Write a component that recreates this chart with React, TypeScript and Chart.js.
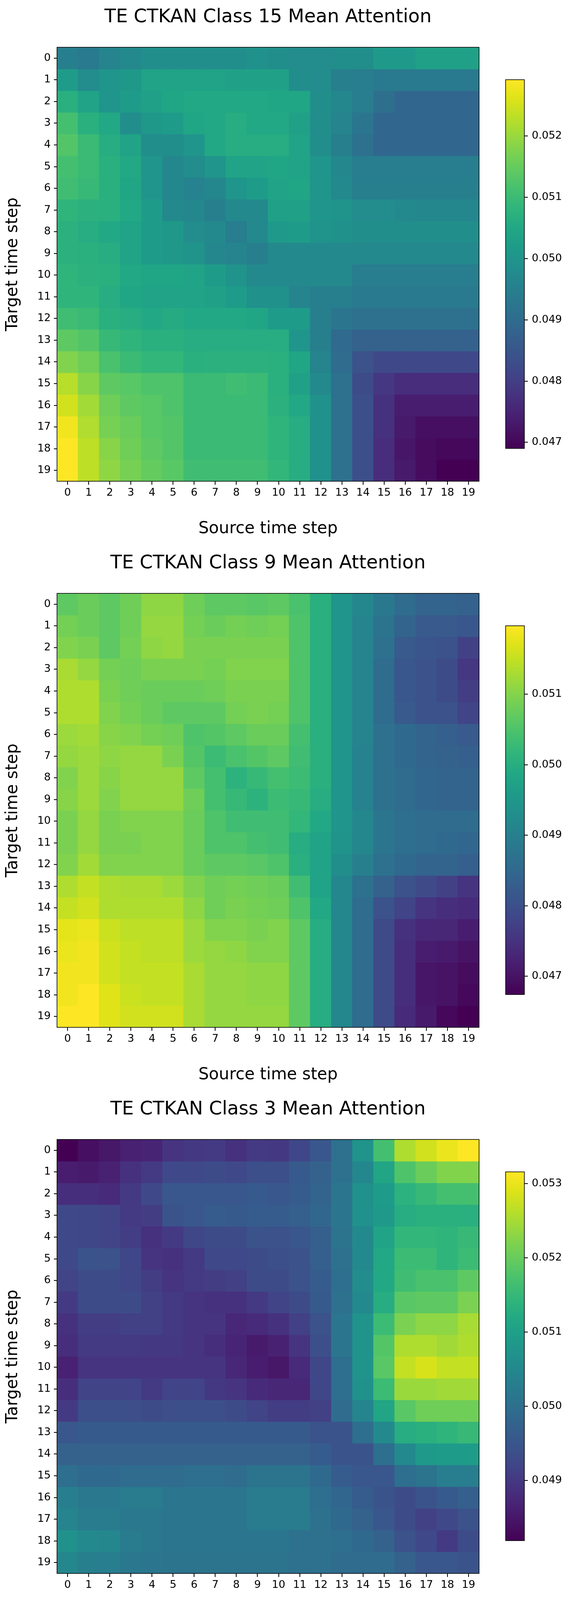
import React, { useEffect, useRef } from "react";
import { Chart, registerables } from "chart.js";

Chart.register(...registerables);

const FONT = "'DejaVu Sans', sans-serif";

const STEPS = ["0", "1", "2", "3", "4", "5", "6", "7", "8", "9", "10", "11", "12", "13", "14", "15", "16", "17", "18", "19"];
const X_LABEL = "Source time step";
const Y_LABEL = "Target time step";

// ---------- Class 15 ----------
const CLASS15_TITLE = "TE CTKAN Class 15 Mean Attention";
const CLASS15_RANGE = [0.0469, 0.05292];
const CLASS15_CB_TICKS = [0.047, 0.048, 0.049, 0.05, 0.051, 0.052];
const CLASS15_ATTENTION: number[][] = [
  [0.04949, 0.04937, 0.04961, 0.04973, 0.04985, 0.04985, 0.04985, 0.04985, 0.04985, 0.04991, 0.04985, 0.04979, 0.04979, 0.04985, 0.04985, 0.05015, 0.05015, 0.05033, 0.05033, 0.05033],
  [0.05021, 0.04979, 0.05003, 0.05009, 0.05039, 0.05039, 0.05039, 0.05039, 0.05033, 0.05033, 0.05033, 0.04985, 0.04979, 0.04949, 0.04943, 0.04937, 0.04937, 0.04937, 0.04937, 0.04937],
  [0.05069, 0.05039, 0.05003, 0.05021, 0.05033, 0.05045, 0.05051, 0.05051, 0.05051, 0.05051, 0.05045, 0.05045, 0.04985, 0.04967, 0.04943, 0.04907, 0.04889, 0.04889, 0.04889, 0.04889],
  [0.05111, 0.05069, 0.05051, 0.04985, 0.05009, 0.05021, 0.05045, 0.05051, 0.05063, 0.05051, 0.05051, 0.05033, 0.04985, 0.04961, 0.04925, 0.04889, 0.04889, 0.04889, 0.04889, 0.04889],
  [0.05129, 0.05099, 0.05063, 0.05039, 0.04985, 0.04985, 0.05003, 0.05051, 0.05063, 0.05063, 0.05063, 0.05039, 0.04985, 0.04949, 0.04913, 0.04889, 0.04889, 0.04889, 0.04889, 0.04889],
  [0.05111, 0.05099, 0.05069, 0.05051, 0.05003, 0.04967, 0.04979, 0.05003, 0.05039, 0.05039, 0.05045, 0.05039, 0.05003, 0.04967, 0.04943, 0.04943, 0.04943, 0.04943, 0.04943, 0.04943],
  [0.05105, 0.05093, 0.05069, 0.05045, 0.05003, 0.04967, 0.04955, 0.04967, 0.05003, 0.05021, 0.05039, 0.05045, 0.05003, 0.04973, 0.04949, 0.04949, 0.04949, 0.04949, 0.04949, 0.04949],
  [0.05081, 0.05075, 0.05069, 0.05051, 0.05021, 0.04973, 0.04967, 0.04949, 0.04973, 0.04973, 0.05033, 0.05033, 0.05003, 0.04997, 0.04979, 0.04979, 0.04973, 0.04967, 0.04967, 0.04967],
  [0.05075, 0.05063, 0.05051, 0.05039, 0.05021, 0.05009, 0.04979, 0.04973, 0.04943, 0.04973, 0.05015, 0.05021, 0.04997, 0.04991, 0.04985, 0.04985, 0.04985, 0.04985, 0.04985, 0.04985],
  [0.05075, 0.05069, 0.05063, 0.05039, 0.05021, 0.05009, 0.04997, 0.04967, 0.04961, 0.04949, 0.04973, 0.04973, 0.04973, 0.04973, 0.04973, 0.04973, 0.04973, 0.04973, 0.04973, 0.04973],
  [0.05081, 0.05075, 0.05069, 0.05051, 0.05045, 0.05045, 0.05039, 0.05021, 0.04997, 0.04973, 0.04973, 0.04973, 0.04973, 0.04973, 0.04943, 0.04943, 0.04943, 0.04943, 0.04943, 0.04943],
  [0.05081, 0.05081, 0.05063, 0.05045, 0.05039, 0.05039, 0.05039, 0.05033, 0.05021, 0.04991, 0.04991, 0.04961, 0.04949, 0.04949, 0.04937, 0.04937, 0.04937, 0.04937, 0.04937, 0.04937],
  [0.05105, 0.05099, 0.05069, 0.05063, 0.05051, 0.05057, 0.05051, 0.05051, 0.05051, 0.05045, 0.05021, 0.05021, 0.04949, 0.04925, 0.04913, 0.04913, 0.04913, 0.04913, 0.04913, 0.04913],
  [0.05142, 0.05129, 0.05093, 0.05081, 0.05069, 0.05069, 0.05063, 0.05063, 0.05063, 0.05063, 0.05063, 0.05003, 0.04949, 0.04895, 0.04877, 0.04877, 0.04877, 0.04877, 0.04877, 0.04877],
  [0.05178, 0.0516, 0.05117, 0.05099, 0.05087, 0.05087, 0.05069, 0.05075, 0.05075, 0.05075, 0.05069, 0.05045, 0.04961, 0.04901, 0.04841, 0.04822, 0.04822, 0.04822, 0.04822, 0.04822],
  [0.05226, 0.05184, 0.05142, 0.05135, 0.05123, 0.05123, 0.05099, 0.05099, 0.05105, 0.05099, 0.05069, 0.05033, 0.04973, 0.04913, 0.04828, 0.04786, 0.04768, 0.04768, 0.04768, 0.04768],
  [0.0525, 0.05208, 0.0516, 0.05142, 0.05135, 0.05123, 0.05099, 0.05099, 0.05099, 0.05099, 0.05075, 0.05051, 0.04991, 0.04913, 0.04834, 0.04774, 0.04738, 0.04738, 0.04738, 0.04738],
  [0.0528, 0.0522, 0.05166, 0.05154, 0.05135, 0.05129, 0.05099, 0.05099, 0.05099, 0.05099, 0.05081, 0.05063, 0.04991, 0.04913, 0.04834, 0.04774, 0.04732, 0.04714, 0.04714, 0.04714],
  [0.05292, 0.05232, 0.05184, 0.0516, 0.05142, 0.05129, 0.05099, 0.05099, 0.05099, 0.05099, 0.05081, 0.05063, 0.04991, 0.04913, 0.04834, 0.04768, 0.04726, 0.04708, 0.04702, 0.04702],
  [0.05292, 0.05232, 0.0519, 0.05166, 0.05148, 0.05135, 0.05105, 0.05105, 0.05105, 0.05105, 0.05087, 0.05063, 0.04991, 0.04913, 0.04834, 0.04768, 0.04732, 0.04708, 0.0469, 0.0469],
];

// ---------- Class 9 ----------
const CLASS9_TITLE = "TE CTKAN Class 9 Mean Attention";
const CLASS9_RANGE = [0.04674, 0.05197];
const CLASS9_CB_TICKS = [0.047, 0.048, 0.049, 0.05, 0.051];
const CLASS9_ATTENTION: number[][] = [
  [0.05066, 0.05077, 0.05066, 0.05082, 0.05108, 0.05108, 0.05082, 0.05066, 0.05066, 0.05061, 0.05066, 0.05045, 0.05003, 0.04946, 0.04915, 0.04883, 0.04857, 0.04841, 0.04841, 0.04836],
  [0.05087, 0.05077, 0.05066, 0.05082, 0.05113, 0.05113, 0.05087, 0.05077, 0.05087, 0.05082, 0.05087, 0.05051, 0.05003, 0.04946, 0.04909, 0.04873, 0.04841, 0.0482, 0.0482, 0.04815],
  [0.05098, 0.05092, 0.05066, 0.05087, 0.05108, 0.05113, 0.05092, 0.05092, 0.05092, 0.05092, 0.05092, 0.05051, 0.05003, 0.04946, 0.04909, 0.04868, 0.0482, 0.0481, 0.04805, 0.04773],
  [0.05129, 0.05113, 0.05087, 0.05082, 0.05092, 0.05092, 0.05092, 0.05087, 0.05098, 0.05098, 0.05098, 0.05051, 0.05003, 0.04946, 0.04909, 0.04857, 0.04815, 0.04805, 0.04794, 0.04758],
  [0.05134, 0.05134, 0.05092, 0.05082, 0.05077, 0.05077, 0.05077, 0.05082, 0.05092, 0.05092, 0.05092, 0.05051, 0.05003, 0.04946, 0.04909, 0.04857, 0.04815, 0.04805, 0.04794, 0.04768],
  [0.05134, 0.05134, 0.05098, 0.05087, 0.05077, 0.05066, 0.05066, 0.05066, 0.05087, 0.05092, 0.05087, 0.05051, 0.05003, 0.04946, 0.04909, 0.04857, 0.0482, 0.04805, 0.04805, 0.04779],
  [0.05119, 0.05124, 0.05103, 0.05098, 0.05087, 0.05082, 0.05051, 0.05056, 0.05066, 0.05077, 0.05077, 0.0504, 0.05003, 0.04946, 0.04909, 0.04868, 0.04852, 0.04841, 0.04831, 0.0482],
  [0.05113, 0.05119, 0.05108, 0.05113, 0.05113, 0.05092, 0.05056, 0.0503, 0.05045, 0.05056, 0.05066, 0.05035, 0.05003, 0.04946, 0.04904, 0.04868, 0.04852, 0.04841, 0.04836, 0.04831],
  [0.05098, 0.05119, 0.05103, 0.05113, 0.05113, 0.05113, 0.05066, 0.0504, 0.05009, 0.05024, 0.0504, 0.0503, 0.05003, 0.04946, 0.04904, 0.04868, 0.04857, 0.04847, 0.04841, 0.04841],
  [0.05103, 0.05119, 0.05098, 0.05113, 0.05113, 0.05113, 0.05082, 0.0504, 0.05024, 0.05009, 0.0503, 0.05024, 0.04998, 0.04946, 0.04904, 0.04868, 0.04857, 0.04847, 0.04841, 0.04841],
  [0.05092, 0.05113, 0.05092, 0.05098, 0.05098, 0.05098, 0.05077, 0.05051, 0.05035, 0.05035, 0.05035, 0.05019, 0.04988, 0.04946, 0.04915, 0.04878, 0.04862, 0.04857, 0.04857, 0.04857],
  [0.05092, 0.05113, 0.05092, 0.05092, 0.05098, 0.05098, 0.05077, 0.05051, 0.05051, 0.0504, 0.05035, 0.04998, 0.04977, 0.04941, 0.04915, 0.04878, 0.04862, 0.04857, 0.04852, 0.04847],
  [0.05098, 0.05124, 0.05098, 0.05098, 0.05098, 0.05098, 0.05077, 0.05066, 0.05066, 0.05061, 0.05051, 0.05003, 0.04977, 0.0493, 0.04899, 0.04868, 0.04852, 0.04841, 0.04841, 0.04831],
  [0.05134, 0.0515, 0.05134, 0.05129, 0.05129, 0.05119, 0.05098, 0.05082, 0.05087, 0.05082, 0.05077, 0.05035, 0.04977, 0.04915, 0.04868, 0.04836, 0.04805, 0.04789, 0.04773, 0.04752],
  [0.0515, 0.0516, 0.05134, 0.05134, 0.05134, 0.05134, 0.05108, 0.05082, 0.05092, 0.05087, 0.05082, 0.05051, 0.04988, 0.04915, 0.04857, 0.04805, 0.04779, 0.04752, 0.04742, 0.04737],
  [0.05176, 0.05181, 0.05155, 0.05145, 0.05145, 0.05145, 0.05119, 0.05098, 0.05098, 0.05092, 0.05098, 0.05066, 0.04998, 0.04915, 0.04857, 0.04789, 0.04747, 0.04732, 0.04732, 0.04716],
  [0.05181, 0.05187, 0.0516, 0.0515, 0.05145, 0.05145, 0.05119, 0.05113, 0.05108, 0.05098, 0.05098, 0.05066, 0.04998, 0.04915, 0.04857, 0.04789, 0.04742, 0.04716, 0.04711, 0.047],
  [0.05187, 0.05187, 0.0516, 0.0515, 0.0515, 0.0515, 0.05129, 0.05113, 0.05113, 0.05108, 0.05108, 0.05066, 0.04998, 0.04915, 0.04857, 0.04789, 0.04742, 0.04705, 0.047, 0.0469],
  [0.05187, 0.05197, 0.05171, 0.05155, 0.0515, 0.0515, 0.05129, 0.05113, 0.05113, 0.05108, 0.05108, 0.05066, 0.04998, 0.04915, 0.04857, 0.04789, 0.04742, 0.04705, 0.047, 0.04684],
  [0.05197, 0.05197, 0.05171, 0.0516, 0.0516, 0.0516, 0.05129, 0.05113, 0.05113, 0.05113, 0.05113, 0.05066, 0.04998, 0.04915, 0.04857, 0.04789, 0.04737, 0.04711, 0.04684, 0.04674],
];

// ---------- Class 3 ----------
const CLASS3_TITLE = "TE CTKAN Class 3 Mean Attention";
const CLASS3_RANGE = [0.04819, 0.05316];
const CLASS3_CB_TICKS = [0.049, 0.05, 0.051, 0.052, 0.053];
const CLASS3_ATTENTION: number[][] = [
  [0.04819, 0.04839, 0.04849, 0.04864, 0.04869, 0.04894, 0.04899, 0.04903, 0.04889, 0.04903, 0.04899, 0.04923, 0.04953, 0.05003, 0.05073, 0.05167, 0.05256, 0.05281, 0.05301, 0.05316],
  [0.04859, 0.04854, 0.04864, 0.04889, 0.04903, 0.04928, 0.04928, 0.04933, 0.04928, 0.04938, 0.04938, 0.04958, 0.04973, 0.05003, 0.05048, 0.05112, 0.05177, 0.05202, 0.05222, 0.05222],
  [0.04884, 0.04884, 0.04879, 0.04903, 0.04928, 0.04953, 0.04953, 0.04953, 0.04953, 0.04958, 0.04953, 0.04963, 0.04978, 0.05013, 0.05068, 0.05092, 0.05137, 0.05152, 0.05167, 0.05167],
  [0.04928, 0.04923, 0.04918, 0.04903, 0.04908, 0.04948, 0.04953, 0.04963, 0.04958, 0.04963, 0.04963, 0.04968, 0.04983, 0.05013, 0.05068, 0.05087, 0.05127, 0.05132, 0.05132, 0.05132],
  [0.04928, 0.04923, 0.04918, 0.04908, 0.04889, 0.04903, 0.04923, 0.04933, 0.04933, 0.04948, 0.04943, 0.04953, 0.04968, 0.05008, 0.05053, 0.05107, 0.05147, 0.05147, 0.05142, 0.05152],
  [0.04928, 0.04948, 0.04943, 0.04923, 0.04894, 0.04889, 0.04903, 0.04928, 0.04928, 0.04933, 0.04938, 0.04943, 0.04968, 0.05003, 0.05053, 0.05117, 0.05157, 0.05157, 0.05142, 0.05157],
  [0.04918, 0.04933, 0.04933, 0.04923, 0.04908, 0.04894, 0.04903, 0.04908, 0.04913, 0.04933, 0.04933, 0.04943, 0.04963, 0.04998, 0.05058, 0.05117, 0.05162, 0.05172, 0.05172, 0.05192],
  [0.04903, 0.04933, 0.04933, 0.04933, 0.04913, 0.04903, 0.04894, 0.04889, 0.04889, 0.04903, 0.04918, 0.04933, 0.04958, 0.05003, 0.05053, 0.05127, 0.05187, 0.05192, 0.05192, 0.05217],
  [0.04889, 0.04908, 0.04908, 0.04913, 0.04913, 0.04903, 0.04894, 0.04894, 0.04874, 0.04879, 0.04889, 0.04913, 0.04943, 0.05013, 0.05073, 0.05157, 0.05217, 0.05231, 0.05231, 0.05251],
  [0.04884, 0.04903, 0.04903, 0.04903, 0.04899, 0.04899, 0.04894, 0.04884, 0.04869, 0.04854, 0.04864, 0.04894, 0.04938, 0.05013, 0.05073, 0.05182, 0.05256, 0.05256, 0.05246, 0.05256],
  [0.04864, 0.04894, 0.04894, 0.04894, 0.04894, 0.04894, 0.04894, 0.04894, 0.04874, 0.04859, 0.04849, 0.04879, 0.04923, 0.04998, 0.05073, 0.05187, 0.05271, 0.05286, 0.05271, 0.05271],
  [0.04884, 0.04918, 0.04918, 0.04918, 0.04903, 0.04918, 0.04918, 0.04899, 0.04894, 0.04879, 0.04874, 0.04874, 0.04923, 0.04998, 0.05068, 0.05157, 0.05241, 0.05241, 0.05246, 0.05246],
  [0.04903, 0.04938, 0.04938, 0.04938, 0.04933, 0.04938, 0.04938, 0.04938, 0.04933, 0.04918, 0.04908, 0.04908, 0.04913, 0.04993, 0.05043, 0.05112, 0.05187, 0.05207, 0.05207, 0.05207],
  [0.04953, 0.04958, 0.04958, 0.04958, 0.04958, 0.04958, 0.04958, 0.04958, 0.04958, 0.04958, 0.04958, 0.04958, 0.04948, 0.04948, 0.04998, 0.05053, 0.05127, 0.05132, 0.05142, 0.05152],
  [0.04973, 0.04973, 0.04973, 0.04973, 0.04973, 0.04973, 0.04973, 0.04973, 0.04973, 0.04973, 0.04973, 0.04973, 0.04963, 0.04948, 0.04948, 0.04998, 0.05053, 0.05087, 0.05092, 0.05092],
  [0.04998, 0.04988, 0.04988, 0.04993, 0.04993, 0.04993, 0.04998, 0.04998, 0.04993, 0.05008, 0.05008, 0.05008, 0.04988, 0.04963, 0.04953, 0.04953, 0.04998, 0.05008, 0.05028, 0.05028],
  [0.05033, 0.05018, 0.05018, 0.05023, 0.05023, 0.05013, 0.05013, 0.05013, 0.05013, 0.05023, 0.05023, 0.05023, 0.04998, 0.04983, 0.04963, 0.04948, 0.04933, 0.04948, 0.04958, 0.04968],
  [0.05043, 0.05023, 0.05023, 0.05018, 0.05018, 0.05013, 0.05013, 0.05013, 0.05013, 0.05023, 0.05023, 0.05023, 0.05003, 0.04988, 0.04973, 0.04953, 0.04933, 0.04913, 0.04928, 0.04943],
  [0.05068, 0.05053, 0.05048, 0.05023, 0.05018, 0.05013, 0.05013, 0.05013, 0.05013, 0.05013, 0.05013, 0.05003, 0.05003, 0.04998, 0.04988, 0.04973, 0.04943, 0.04928, 0.04903, 0.04933],
  [0.05048, 0.05033, 0.05028, 0.05018, 0.05013, 0.05008, 0.05008, 0.05008, 0.05008, 0.05008, 0.05008, 0.05003, 0.05003, 0.04993, 0.04993, 0.04993, 0.04973, 0.04953, 0.04953, 0.04948],
];

// viridis colormap (21 evenly spaced samples)
const VIRIDIS = [
  "#440154", "#471365", "#482475", "#463480", "#414487", "#3b528b", "#355f8d",
  "#2f6c8e", "#2a788e", "#25848e", "#21918c", "#1e9c89", "#22a884", "#2fb47c",
  "#44bf70", "#5ec962", "#7ad151", "#9bd93c", "#bddf26", "#dfe318", "#fde725",
];
const VIRIDIS_RGB = VIRIDIS.map((h) => [
  parseInt(h.slice(1, 3), 16),
  parseInt(h.slice(3, 5), 16),
  parseInt(h.slice(5, 7), 16),
]);

function viridis(t: number): string {
  const c = Math.max(0, Math.min(1, t)) * (VIRIDIS_RGB.length - 1);
  const i = Math.min(Math.floor(c), VIRIDIS_RGB.length - 2);
  const f = c - i;
  const a = VIRIDIS_RGB[i];
  const b = VIRIDIS_RGB[i + 1];
  const m = (k: number) => Math.round(a[k] + (b[k] - a[k]) * f);
  return `rgb(${m(0)},${m(1)},${m(2)})`;
}

const framePlugin = {
  id: "frame",
  afterDatasetsDraw(chart: any) {
    const { ctx, chartArea: a } = chart;
    ctx.save();
    ctx.strokeStyle = "#000";
    ctx.lineWidth = 1.6;
    ctx.strokeRect(a.left, a.top, a.right - a.left, a.bottom - a.top);
    ctx.restore();
  },
};

const BLOCK_W = 1465;
const BLOCK_H = 1398;
const HM_W = 1260;

type PanelProps = {
  title: string;
  values: number[][];
  range: number[];
  cbTicks: number[];
};

function HeatmapPanel({ title, values, range, cbTicks }: PanelProps) {
  const hmRef = useRef<HTMLCanvasElement>(null);
  const cbRef = useRef<HTMLCanvasElement>(null);

  useEffect(() => {
    const [vmin, vmax] = range;
    const norm = (v: number) => (v - vmin) / (vmax - vmin);
    const tickFont = { family: FONT, size: 27 };
    const labelFont = { family: FONT, size: 42 };

    const hm = new Chart(hmRef.current as HTMLCanvasElement, {
      type: "bar",
      data: {
        labels: STEPS,
        datasets: values.map((row, r) => ({
          label: STEPS[r],
          data: row.map(() => [r, r + 1]),
          backgroundColor: row.map((v) => viridis(norm(v))),
          borderWidth: 0,
          barPercentage: 1,
          categoryPercentage: 1,
          grouped: false,
          inflateAmount: 0.6,
        })),
      } as any,
      options: {
        responsive: false,
        animation: false,
        devicePixelRatio: 1,
        events: [],
        layout: { padding: { left: 0, right: 33, top: 0, bottom: 0 } },
        plugins: {
          legend: { display: false },
          tooltip: { enabled: false },
          title: {
            display: true,
            text: title,
            fullSize: false,
            color: "#000",
            font: { family: FONT, size: 48, weight: "normal" },
            padding: { top: 15.6, bottom: 47.8 },
          },
        },
        scales: {
          x: {
            type: "category",
            offset: true,
            grid: {
              offset: false,
              drawOnChartArea: false,
              drawTicks: true,
              tickLength: 9,
              color: "#000",
              lineWidth: 2,
            },
            border: { display: false },
            ticks: {
              color: "#000",
              font: tickFont,
              padding: 5,
              maxRotation: 0,
              minRotation: 0,
              autoSkip: false,
            },
            title: {
              display: true,
              text: X_LABEL,
              color: "#000",
              font: labelFont,
              padding: { top: 0, bottom: 19 },
            },
            afterFit: (s: any) => {
              s.height = 166;
            },
          },
          y: {
            type: "linear",
            min: 0,
            max: 20,
            reverse: true,
            afterBuildTicks: (s: any) => {
              s.ticks = STEPS.map((_, i) => ({ value: i + 0.5 }));
            },
            grid: {
              drawOnChartArea: false,
              drawTicks: true,
              tickLength: 8,
              color: "#000",
              lineWidth: 2,
            },
            border: { display: false },
            ticks: {
              color: "#000",
              font: tickFont,
              padding: 8,
              autoSkip: false,
              callback: (_v: any, i: number) => STEPS[i],
            },
            title: {
              display: true,
              text: Y_LABEL,
              color: "#000",
              font: labelFont,
              padding: { top: 8, bottom: 0 },
            },
            afterFit: (s: any) => {
              s.width = 146;
            },
          },
        },
      } as any,
      plugins: [framePlugin],
    });

    const cb = new Chart(cbRef.current as HTMLCanvasElement, {
      type: "bar",
      data: {
        labels: ["colorbar"],
        datasets: [
          {
            data: [[vmin, vmax]],
            backgroundColor: (c: any) => {
              const a = c.chart.chartArea;
              if (!a) return VIRIDIS[10];
              const g = c.chart.ctx.createLinearGradient(0, a.bottom, 0, a.top);
              VIRIDIS.forEach((col, i) => g.addColorStop(i / (VIRIDIS.length - 1), col));
              return g;
            },
            borderWidth: 0,
            barPercentage: 1,
            categoryPercentage: 1,
          },
        ],
      } as any,
      options: {
        responsive: false,
        animation: false,
        devicePixelRatio: 1,
        events: [],
        layout: { padding: { left: 35, right: 0, top: 204, bottom: 250 } },
        plugins: {
          legend: { display: false },
          tooltip: { enabled: false },
          title: { display: false },
        },
        scales: {
          x: { display: false },
          y: {
            position: "right",
            min: vmin,
            max: vmax,
            afterBuildTicks: (s: any) => {
              s.ticks = cbTicks.map((v) => ({ value: v }));
            },
            grid: {
              drawOnChartArea: false,
              drawTicks: true,
              tickLength: 9,
              color: "#000",
              lineWidth: 2,
            },
            border: { display: false },
            ticks: {
              color: "#000",
              font: tickFont,
              padding: 10,
              autoSkip: false,
              callback: (v: any) => Number(v).toFixed(3),
            },
            afterFit: (s: any) => {
              s.width = 122;
            },
          },
        },
      } as any,
      plugins: [framePlugin],
    });

    return () => {
      hm.destroy();
      cb.destroy();
    };
  }, [title, values, range, cbTicks]);

  return (
    <div style={{ position: "relative", width: BLOCK_W, height: BLOCK_H }}>
      <canvas
        ref={hmRef}
        width={HM_W}
        height={BLOCK_H}
        style={{ position: "absolute", left: 0, top: 0, width: HM_W, height: BLOCK_H }}
      />
      <canvas
        ref={cbRef}
        width={BLOCK_W - HM_W}
        height={BLOCK_H}
        style={{ position: "absolute", left: HM_W, top: 0, width: BLOCK_W - HM_W, height: BLOCK_H }}
      />
    </div>
  );
}

export default function App() {
  useEffect(() => {
    document.body.style.margin = "0";
    document.body.style.background = "#fff";
  }, []);
  return (
    <div style={{ width: BLOCK_W, background: "#fff" }}>
      <HeatmapPanel title={CLASS15_TITLE} values={CLASS15_ATTENTION} range={CLASS15_RANGE} cbTicks={CLASS15_CB_TICKS} />
      <HeatmapPanel title={CLASS9_TITLE} values={CLASS9_ATTENTION} range={CLASS9_RANGE} cbTicks={CLASS9_CB_TICKS} />
      <HeatmapPanel title={CLASS3_TITLE} values={CLASS3_ATTENTION} range={CLASS3_RANGE} cbTicks={CLASS3_CB_TICKS} />
    </div>
  );
}
